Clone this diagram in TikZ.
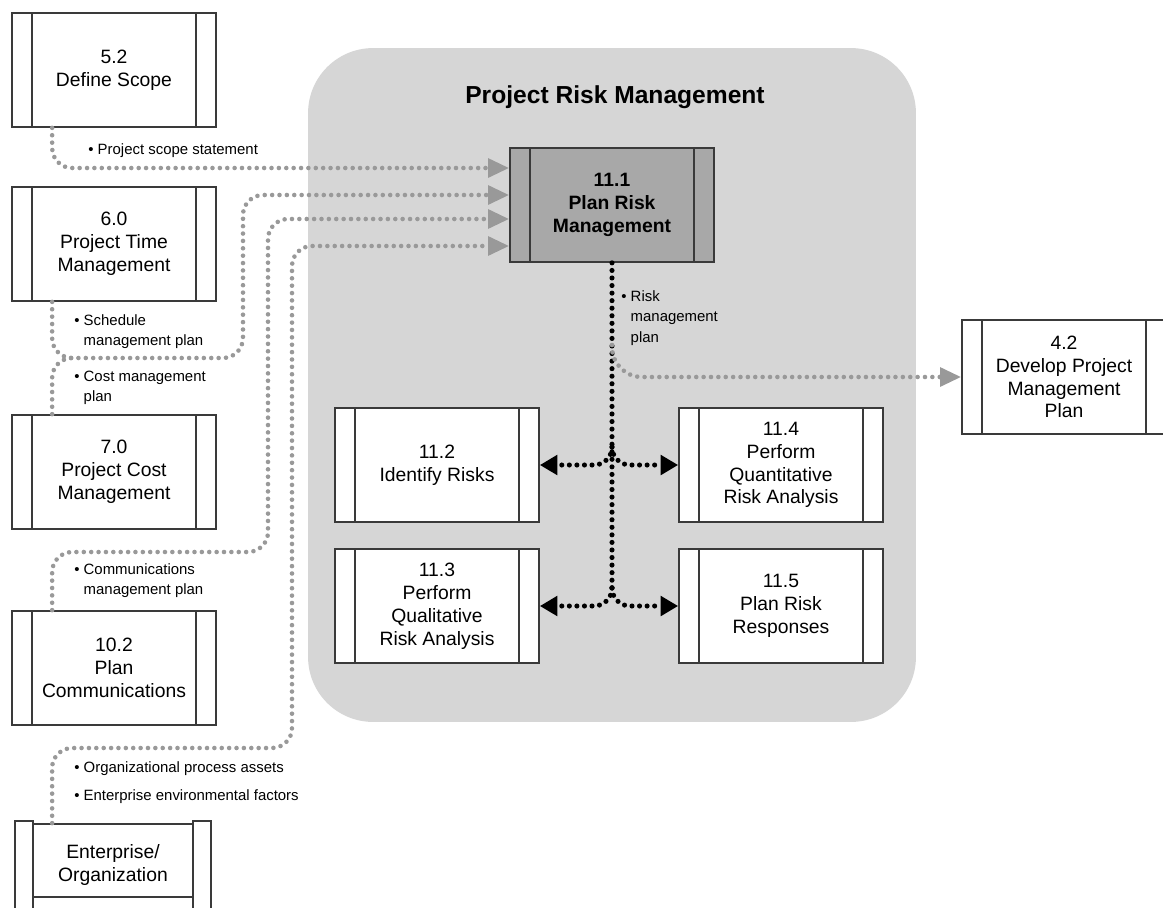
\documentclass[tikz,border=0pt]{standalone}
\usepackage{fontspec}
\setmainfont{Liberation Sans}
\usetikzlibrary{arrows.meta}
\definecolor{framegray}{HTML}{3A3A3A}
\definecolor{areagray}{HTML}{D6D6D6}
\definecolor{planfill}{HTML}{A8A8A8}
\definecolor{flowgray}{HTML}{999999}
\tikzset{
  procbox/.style={draw=framegray,line width=1pt,fill=white,minimum width=4.08cm,minimum height=2.28cm,inner sep=0pt,align=center,font=\fontsize{11}{13}\selectfont,
    path picture={\path[draw=framegray,line width=1pt] ([xshift=0.4cm]path picture bounding box.north west) -- ([xshift=0.4cm]path picture bounding box.south west);
      \path[draw=framegray,line width=1pt] ([xshift=-0.4cm]path picture bounding box.north east) -- ([xshift=-0.4cm]path picture bounding box.south east);}},
  flowtext/.style={align=left,inner sep=0pt,font=\fontsize{8.5}{11.5}\selectfont},
  grayflow/.style={draw=flowgray,line width=2.6pt,line cap=round,dash pattern=on 0pt off 4.2pt,rounded corners=0.4cm,-{Triangle[length=12pt,width=10.5pt]}},
  blackflow/.style={draw=black,line width=2.9pt,line cap=round,dash pattern=on 0pt off 4.3pt,rounded corners=0.36cm}
}
\begin{document}
\begin{tikzpicture}[x=0.02cm,y=-0.02cm]
\useasboundingbox (0,0) rectangle (1163,907);
\node[fill=areagray,rounded corners=1.3cm,minimum width=12.16cm,minimum height=13.48cm] (riskarea) at (612,385) {};
\node[font=\fontsize{14}{17}\selectfont\bfseries] (risktitle) at (615,97) {Project Risk Management};

\coordinate (riskbend) at (612,345);
\coordinate (topsplit) at (612,447);
\coordinate (botsplit) at (612,588);

\node[procbox] (scope) at (114,70) {5.2\\Define Scope};
\node[procbox] (time) at (114,244) {6.0\\Project Time\\Management};
\node[procbox] (cost) at (114,472) {7.0\\Project Cost\\Management};
\node[procbox] (comm) at (114,668) {10.2\\Plan\\Communications};
\node[procbox,fill=planfill,font=\fontsize{11}{13}\selectfont\bfseries] (plan) at (612,205) {11.1\\Plan Risk\\Management};
\node[procbox] (ident) at (437,465) {11.2\\Identify Risks};
\node[procbox] (quant) at (781,465) {11.4\\Perform\\Quantitative\\Risk Analysis};
\node[procbox] (qual) at (437,606) {11.3\\Perform\\Qualitative\\Risk Analysis};
\node[procbox] (resp) at (781,606) {11.5\\Plan Risk\\Responses};
\node[procbox] (devplan) at (1064,377) {4.2\\Develop Project\\Management\\Plan};
\path[draw=framegray,line width=1pt,fill=white] (15,821) rectangle (33,915);
\path[draw=framegray,line width=1pt,fill=white] (193,821) rectangle (211,915);
\node[draw=framegray,line width=1pt,fill=white,minimum width=3.2cm,minimum height=1.46cm] (ent) at (113,860.5) {};
\node[align=center,inner sep=0pt,font=\fontsize{11}{13}\selectfont] (enttext) at (113,865) {Enterprise/\\Organization};

\path[grayflow] ([xshift=0.82cm]scope.south west) |- ([yshift=0.74cm]plan.west);
\path[grayflow] ([xshift=0.82cm]time.south west) |- (243,358) |- ([yshift=0.2cm]plan.west);
\path[grayflow,-] ([xshift=0.82cm]cost.north west) |- (76,358);
\path[grayflow] ([xshift=0.82cm]comm.north west) |- (268,552) |- ([yshift=-0.28cm]plan.west);
\path[grayflow] ([xshift=0.4cm]ent.north west) |- (292,748) |- ([yshift=-0.82cm]plan.west);

\path[blackflow] (plan.south) -- (botsplit);
\path[grayflow,rounded corners=0.6cm] (riskbend) |- (devplan.west);
\path[blackflow,-{Triangle[length=10pt,width=11pt]}] (topsplit) |- (ident.east);
\path[blackflow,-{Triangle[length=10pt,width=11pt]}] (topsplit) |- (quant.west);
\path[blackflow,-{Triangle[length=10pt,width=11pt]}] (botsplit) |- (qual.east);
\path[blackflow,-{Triangle[length=10pt,width=11pt]}] (botsplit) |- (resp.west);

\node[flowtext,anchor=west] (scopenote) at (88,151) {\textbullet\ Project scope statement};
\node[flowtext,anchor=west] (timenote) at (74,332) {\textbullet\ Schedule\\\hphantom{\textbullet\ }management plan};
\node[flowtext,anchor=west] (costnote) at (74,388) {\textbullet\ Cost management\\\hphantom{\textbullet\ }plan};
\node[flowtext,anchor=west] (commnote) at (74,581) {\textbullet\ Communications\\\hphantom{\textbullet\ }management plan};
\node[flowtext,anchor=west] (assetnote) at (74,769) {\textbullet\ Organizational process assets};
\node[flowtext,anchor=west] (envnote) at (74,797) {\textbullet\ Enterprise environmental factors};
\node[flowtext,anchor=west] (risknote) at (621,318) {\textbullet\ Risk\\\hphantom{\textbullet\ }management\\\hphantom{\textbullet\ }plan};
\end{tikzpicture}
\end{document}
